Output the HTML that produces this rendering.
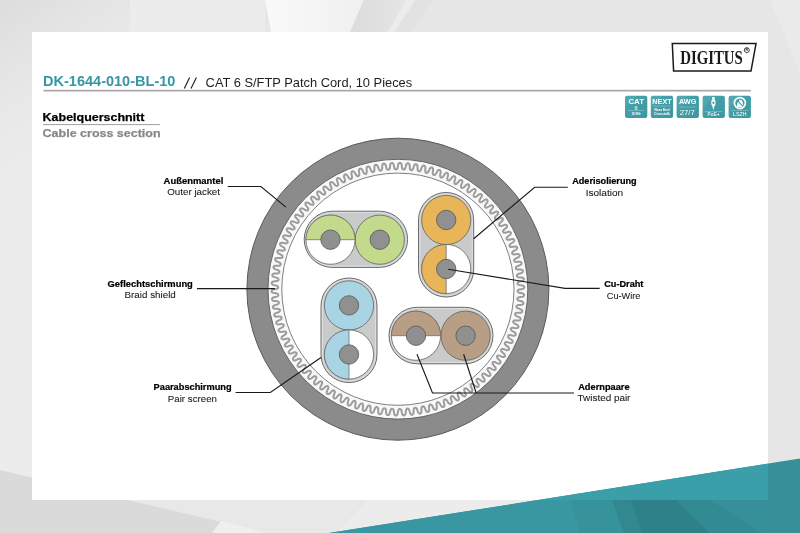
<!DOCTYPE html>
<html><head><meta charset="utf-8"><style>
html,body{margin:0;padding:0;width:800px;height:533px;overflow:hidden;background:#e6e6e6}
svg{display:block;will-change:transform}
text{font-family:"Liberation Sans",sans-serif}
</style></head><body>
<svg width="800" height="533" viewBox="0 0 800 533">
<defs>
<linearGradient id="bgl" gradientUnits="userSpaceOnUse" x1="0" y1="0" x2="110" y2="160">
<stop offset="0" stop-color="#dcdcdc"/><stop offset="1" stop-color="#ececec" stop-opacity="0"/>
</linearGradient>
<linearGradient id="wg" x1="0" y1="0" x2="1" y2="0"><stop offset="0" stop-color="#f9f9f9"/><stop offset="1" stop-color="#f0f0f0"/></linearGradient>
<linearGradient id="dg" x1="0" y1="0" x2="1" y2="0"><stop offset="0" stop-color="#dcdcdc"/><stop offset="1" stop-color="#e5e5e5"/></linearGradient>
<linearGradient id="tg" x1="0" y1="0" x2="1" y2="1">
<stop offset="0" stop-color="#48a5ad"/><stop offset="1" stop-color="#3b979f"/>
</linearGradient>
</defs>
<rect width="800" height="533" fill="#e6e6e6"/>
<rect width="265" height="32" fill="#ececec"/>
<rect width="32" height="533" fill="#ececec"/>
<rect width="130" height="533" fill="url(#bgl)"/>
<polygon points="265,0 363.7,0 350.2,32 271,32" fill="url(#wg)"/>
<polygon points="363.7,0 406.5,0 387.7,32 350.2,32" fill="url(#dg)"/>
<polygon points="406.5,0 415.5,0 394.5,32 387.7,32" fill="#ececec"/>
<polygon points="415.5,0 432,0 411.7,32 394.5,32" fill="#e2e2e2"/>
<polygon points="770,0 800,0 800,74" fill="#eaeaea"/>
<rect x="0" y="500" width="800" height="33" fill="#e8e8e8"/>
<polygon points="0,470 268,533 0,533" fill="#dadada"/>
<polygon points="221,521 268,533 212,533" fill="#efefef"/>
<polygon points="368,500 800,500 800,533 336,533" fill="#ececec"/>
<rect x="32" y="32" width="736" height="468" fill="#fff"/>
<polygon points="329,533 800,458.6 800,533" fill="#378f97"/>
<polygon points="537.9,500 768,463.7 768,500" fill="#3b9fa9"/>
<polygon points="329,533 537.9,500 571,500 580,533" fill="#3897a1"/>
<polygon points="571,500 612,500 624,533 580,533" fill="#36939c"/>
<polygon points="612,500 631,500 642,533 624,533" fill="#31888f"/>
<polygon points="631,500 676,500 710,533 642,533" fill="#2e8189"/>
<polygon points="676,500 710,500 762,533 710,533" fill="#328b93"/>
<polygon points="710,500 768,500 768,533 762,533" fill="#36909a"/>
<!-- title -->
<text x="43" y="86.3" font-size="13.8" font-weight="bold" fill="#3597a3" text-anchor="start" textLength="132.4" lengthAdjust="spacingAndGlyphs">DK-1644-010-BL-10</text>

<path d="M184.3 88.5 L189.6 77.4 M191 88.5 L196.4 77.4" stroke="#222" stroke-width="1.15" fill="none"/>
<text x="205.6" y="86.5" font-size="13.2" font-weight="normal" fill="#1e1e1e" text-anchor="start" textLength="206.6" lengthAdjust="spacingAndGlyphs">CAT 6 S/FTP Patch Cord, 10 Pieces</text>

<rect x="43.5" y="89.8" width="707.5" height="1.7" fill="#a8a8a8"/>
<text x="42.6" y="120.7" font-size="11.4" font-weight="bold" fill="#000" text-anchor="start" textLength="101.8" lengthAdjust="spacingAndGlyphs" stroke="#000" stroke-width="0.25">Kabelquerschnitt</text>

<rect x="43" y="124" width="117.2" height="1.1" fill="#a8a8a8"/>
<text x="42.6" y="136.8" font-size="11.2" font-weight="bold" fill="#888" text-anchor="start" textLength="118" lengthAdjust="spacingAndGlyphs" stroke="#888" stroke-width="0.25">Cable cross section</text>

<!-- logo -->
<polygon points="672.3,43.6 756,43.6 751,71.1 673.6,71.1" fill="#fff" stroke="#1a1a1a" stroke-width="1.5"/>
<text x="680.2" y="64.2" font-size="18.7" font-weight="bold" fill="#1a1a1a" textLength="62.6" lengthAdjust="spacingAndGlyphs" style="font-family:'Liberation Serif',serif">DIGITUS</text>
<circle cx="746.8" cy="50.1" r="2.5" fill="none" stroke="#1a1a1a" stroke-width="0.8"/>
<text x="746.8" y="51.4" font-size="3.6" font-weight="bold" text-anchor="middle" fill="#1a1a1a">R</text>
<g>
<rect x="625" y="95.7" width="22.3" height="22.4" rx="2" fill="url(#tg)"/>
<polygon points="625,107.7 637,95.7 627,95.7 625,97.7" fill="#fff" fill-opacity="0.06"/>
<rect x="650.8" y="95.7" width="22.3" height="22.4" rx="2" fill="url(#tg)"/>
<polygon points="650.8,107.7 662.8,95.7 652.8,95.7 650.8,97.7" fill="#fff" fill-opacity="0.06"/>
<rect x="676.6" y="95.7" width="22.3" height="22.4" rx="2" fill="url(#tg)"/>
<polygon points="676.6,107.7 688.6,95.7 678.6,95.7 676.6,97.7" fill="#fff" fill-opacity="0.06"/>
<rect x="702.6" y="95.7" width="22.3" height="22.4" rx="2" fill="url(#tg)"/>
<polygon points="702.6,107.7 714.6,95.7 704.6,95.7 702.6,97.7" fill="#fff" fill-opacity="0.06"/>
<rect x="728.6" y="95.7" width="22.3" height="22.4" rx="2" fill="url(#tg)"/>
<polygon points="728.6,107.7 740.6,95.7 730.6,95.7 728.6,97.7" fill="#fff" fill-opacity="0.06"/>
<g fill="#fff" text-anchor="middle" font-weight="bold">
<text x="636.2" y="103.6" font-size="7" textLength="15.5" lengthAdjust="spacingAndGlyphs">CAT</text>
<text x="636.2" y="109.6" font-size="5.8" font-weight="normal">6</text>
<rect x="628" y="110.4" width="16.5" height="0.5" fill="#fff" fill-opacity="0.5"/>
<text x="636.2" y="115" font-size="3" textLength="9" lengthAdjust="spacingAndGlyphs">250 MHz</text>
<text x="662" y="104" font-size="6.6" textLength="19.5" lengthAdjust="spacingAndGlyphs">NEXT</text>
<rect x="653" y="105.8" width="18" height="0.5" fill="#fff" fill-opacity="0.5"/>
<text x="662" y="111.2" font-size="3.6" textLength="15" lengthAdjust="spacingAndGlyphs">Near End</text>
<text x="662" y="115" font-size="3.6" textLength="16" lengthAdjust="spacingAndGlyphs">Crosstalk</text>
<text x="687.7" y="104.4" font-size="6.8" textLength="17.5" lengthAdjust="spacingAndGlyphs">AWG</text>
<rect x="679" y="106.8" width="17.5" height="0.5" fill="#fff" fill-opacity="0.5"/>
<text x="687.3" y="114.8" font-size="7" font-weight="normal" textLength="15" lengthAdjust="spacingAndGlyphs">27/7</text>
<rect x="705" y="111" width="17.5" height="0.5" fill="#fff" fill-opacity="0.5"/>
<text x="713.5" y="116" font-size="4.6" font-weight="normal" textLength="12" lengthAdjust="spacingAndGlyphs">PoE+</text>
<rect x="731" y="110.3" width="17.5" height="0.5" fill="#fff" fill-opacity="0.5"/>
<text x="739.8" y="116" font-size="4.6" font-weight="normal" textLength="13.5" lengthAdjust="spacingAndGlyphs">LSZH</text>
</g>
<path d="M712 97 L712.2 99.5 L711.3 101 L711.3 104.5 L712.3 106 L713.4 110.3 L714.5 106 L715.5 104.5 L715.5 101 L714.6 99.5 L714.8 97 Z" fill="#fff"/>
<circle cx="713.4" cy="102.8" r="1.1" fill="#3d9aa2"/>
<path d="M736.6 107.2 L737.6 102.6 L738.8 101.4 L739.3 99.2 L740.6 100.6 L741.4 99.6 L742.8 102.8 L743.4 106.2 L741.6 107.6 Z" fill="#fff"/>
<line x1="735.2" y1="98.4" x2="744.6" y2="107.8" stroke="#3d9aa2" stroke-width="1.1"/>
<circle cx="739.9" cy="103.1" r="5.5" fill="none" stroke="#fff" stroke-width="1.7"/>
</g>

<!-- cable -->
<circle cx="397.9" cy="289.2" r="151" fill="#8b8b8b" stroke="#5a5a5a" stroke-width="1"/>
<circle cx="397.9" cy="289.2" r="129.9" fill="#f8f8f8" stroke="#5a5a5a" stroke-width="0.9"/>
<path d="M520.9 289.2 519.2 289.5 518.5 289.8 518.1 290.2 517.8 290.5 517.7 290.8 517.6 291.1 517.7 291.4 517.8 291.8 518.1 292.1 518.5 292.4 519.1 292.8 520.9 293.1 522.7 293.5 523.3 293.9 523.7 294.2 523.9 294.6 524.1 294.9 524.1 295.3 524.0 295.6 523.9 295.9 523.6 296.3 523.1 296.6 522.5 296.9 520.7 297.1 518.9 297.3 518.2 297.6 517.8 297.9 517.5 298.2 517.3 298.5 517.3 298.8 517.3 299.1 517.4 299.4 517.7 299.8 518.0 300.1 518.6 300.5 520.4 301.0 522.1 301.5 522.7 301.9 523.1 302.3 523.3 302.7 523.4 303.0 523.5 303.3 523.4 303.7 523.2 304.0 522.9 304.3 522.4 304.6 521.8 304.8 519.9 304.9 518.1 305.0 517.5 305.3 517.0 305.5 516.7 305.8 516.5 306.1 516.4 306.4 516.4 306.7 516.5 307.1 516.7 307.4 517.1 307.8 517.7 308.2 519.4 308.8 521.1 309.5 521.6 309.9 522.0 310.3 522.2 310.7 522.3 311.0 522.3 311.4 522.2 311.7 522.0 312.0 521.6 312.3 521.2 312.5 520.5 312.7 518.7 312.7 516.9 312.7 516.2 312.9 515.7 313.1 515.4 313.4 515.2 313.7 515.1 314.0 515.0 314.3 515.1 314.6 515.3 315.0 515.7 315.4 516.2 315.9 517.9 316.6 519.5 317.3 520.1 317.8 520.4 318.2 520.6 318.6 520.6 318.9 520.6 319.3 520.5 319.6 520.3 319.9 519.9 320.2 519.4 320.4 518.7 320.5 516.9 320.4 515.1 320.3 514.4 320.4 513.9 320.6 513.6 320.9 513.4 321.1 513.2 321.4 513.2 321.7 513.3 322.1 513.4 322.5 513.7 322.9 514.2 323.4 515.9 324.2 517.5 325.0 518.0 325.5 518.3 326.0 518.4 326.4 518.5 326.7 518.4 327.1 518.3 327.4 518.0 327.7 517.7 327.9 517.2 328.1 516.5 328.2 514.7 328.0 512.9 327.7 512.2 327.8 511.7 328.0 511.3 328.2 511.1 328.5 510.9 328.8 510.9 329.1 510.9 329.4 511.1 329.8 511.3 330.3 511.8 330.8 513.4 331.7 514.9 332.6 515.4 333.2 515.7 333.6 515.8 334.0 515.8 334.4 515.8 334.7 515.6 335.0 515.3 335.3 514.9 335.5 514.4 335.7 513.7 335.7 512.0 335.4 510.2 335.0 509.5 335.1 509.0 335.2 508.6 335.4 508.3 335.6 508.2 335.9 508.1 336.2 508.1 336.6 508.2 337.0 508.5 337.4 508.9 338.0 510.4 339.0 511.9 340.0 512.4 340.6 512.6 341.1 512.7 341.5 512.7 341.9 512.6 342.2 512.4 342.5 512.1 342.7 511.7 342.9 511.2 343.0 510.5 343.1 508.8 342.6 507.0 342.1 506.3 342.1 505.8 342.2 505.4 342.4 505.1 342.6 504.9 342.9 504.8 343.2 504.8 343.5 504.9 344.0 505.2 344.4 505.6 345.0 507.0 346.1 508.4 347.2 508.8 347.8 509.0 348.3 509.1 348.7 509.1 349.1 509.0 349.4 508.8 349.7 508.5 349.9 508.1 350.1 507.5 350.2 506.8 350.2 505.1 349.6 503.4 349.0 502.7 349.0 502.2 349.0 501.8 349.2 501.5 349.4 501.3 349.6 501.2 349.9 501.1 350.3 501.2 350.7 501.4 351.2 501.8 351.8 503.1 353.0 504.5 354.2 504.8 354.8 505.0 355.3 505.1 355.7 505.0 356.1 504.9 356.4 504.7 356.7 504.3 356.9 503.9 357.0 503.4 357.1 502.7 357.0 501.0 356.3 499.3 355.6 498.6 355.5 498.1 355.6 497.7 355.7 497.4 355.9 497.2 356.1 497.1 356.4 497.0 356.8 497.1 357.2 497.2 357.7 497.5 358.3 498.8 359.6 500.1 360.9 500.4 361.5 500.6 362.0 500.6 362.5 500.5 362.8 500.4 363.1 500.1 363.4 499.8 363.6 499.4 363.7 498.8 363.7 498.2 363.6 496.5 362.8 494.9 362.0 494.2 361.9 493.7 361.9 493.3 362.0 492.9 362.1 492.7 362.4 492.6 362.6 492.5 363.0 492.5 363.4 492.6 363.9 492.9 364.5 494.1 365.9 495.3 367.3 495.6 367.9 495.7 368.5 495.7 368.9 495.6 369.3 495.4 369.6 495.2 369.8 494.8 369.9 494.4 370.0 493.9 370.0 493.2 369.9 491.6 369.0 490.0 368.0 489.3 367.9 488.8 367.9 488.4 367.9 488.1 368.1 487.8 368.3 487.7 368.6 487.6 368.9 487.5 369.3 487.6 369.8 487.9 370.5 489.0 371.9 490.1 373.4 490.3 374.0 490.4 374.6 490.4 375.0 490.3 375.4 490.1 375.6 489.8 375.8 489.4 376.0 489.0 376.0 488.5 376.0 487.8 375.8 486.3 374.8 484.8 373.8 484.1 373.6 483.6 373.5 483.2 373.6 482.8 373.7 482.6 373.9 482.4 374.1 482.3 374.5 482.2 374.9 482.3 375.4 482.5 376.1 483.5 377.6 484.5 379.1 484.7 379.8 484.7 380.3 484.7 380.7 484.5 381.1 484.3 381.4 484.1 381.6 483.7 381.7 483.3 381.7 482.7 381.6 482.1 381.4 480.6 380.3 479.2 379.2 478.5 378.9 478.0 378.8 477.6 378.9 477.3 379.0 477.0 379.1 476.8 379.4 476.6 379.7 476.6 380.1 476.6 380.6 476.7 381.3 477.7 382.9 478.6 384.5 478.7 385.2 478.7 385.7 478.6 386.1 478.5 386.5 478.3 386.7 478.0 386.9 477.6 387.0 477.2 387.0 476.6 386.9 476.0 386.6 474.6 385.4 473.2 384.2 472.6 383.9 472.1 383.8 471.7 383.8 471.3 383.9 471.1 384.0 470.8 384.2 470.7 384.6 470.6 385.0 470.6 385.5 470.7 386.2 471.5 387.8 472.3 389.5 472.4 390.1 472.4 390.7 472.3 391.1 472.1 391.4 471.8 391.7 471.5 391.8 471.2 391.9 470.7 391.9 470.2 391.7 469.6 391.4 468.3 390.1 467.0 388.8 466.4 388.5 465.9 388.4 465.5 388.3 465.1 388.4 464.8 388.5 464.6 388.7 464.4 389.0 464.3 389.4 464.2 389.9 464.3 390.6 465.0 392.3 465.7 394.0 465.8 394.7 465.7 395.2 465.6 395.6 465.4 396.0 465.1 396.2 464.8 396.3 464.4 396.4 464.0 396.3 463.5 396.1 462.9 395.8 461.7 394.4 460.5 393.1 459.9 392.7 459.4 392.5 459.0 392.4 458.6 392.5 458.3 392.6 458.1 392.8 457.9 393.1 457.7 393.5 457.7 394.0 457.7 394.7 458.3 396.4 458.9 398.1 458.9 398.8 458.8 399.4 458.6 399.8 458.4 400.1 458.1 400.3 457.8 400.4 457.4 400.4 457.0 400.3 456.5 400.1 455.9 399.7 454.8 398.3 453.7 396.9 453.1 396.5 452.7 396.2 452.2 396.1 451.9 396.1 451.6 396.2 451.3 396.4 451.1 396.7 450.9 397.1 450.8 397.6 450.8 398.3 451.3 400.1 451.8 401.8 451.7 402.5 451.6 403.0 451.4 403.4 451.2 403.7 450.9 403.9 450.6 404.0 450.2 404.0 449.8 403.9 449.3 403.7 448.7 403.2 447.7 401.7 446.7 400.2 446.1 399.8 445.7 399.5 445.3 399.4 444.9 399.4 444.6 399.5 444.3 399.6 444.1 399.9 443.9 400.3 443.8 400.8 443.7 401.5 444.1 403.3 444.4 405.0 444.4 405.7 444.2 406.2 444.0 406.6 443.7 406.9 443.4 407.1 443.1 407.1 442.7 407.1 442.3 407.0 441.9 406.7 441.3 406.2 440.4 404.7 439.5 403.1 439.0 402.6 438.5 402.4 438.1 402.2 437.8 402.2 437.5 402.2 437.2 402.4 436.9 402.6 436.7 403.0 436.5 403.5 436.4 404.2 436.7 406.0 436.9 407.8 436.8 408.5 436.6 409.0 436.4 409.3 436.1 409.6 435.8 409.7 435.4 409.8 435.1 409.7 434.7 409.6 434.2 409.3 433.7 408.8 432.9 407.2 432.1 405.5 431.6 405.0 431.2 404.7 430.8 404.6 430.4 404.5 430.1 404.5 429.8 404.7 429.6 404.9 429.3 405.2 429.1 405.7 429.0 406.4 429.1 408.2 429.2 410.0 429.1 410.7 428.9 411.2 428.6 411.6 428.3 411.8 428.0 411.9 427.6 411.9 427.3 411.9 426.9 411.7 426.5 411.4 426.0 410.8 425.3 409.2 424.6 407.5 424.1 407.0 423.7 406.6 423.3 406.4 423.0 406.3 422.7 406.4 422.4 406.5 422.1 406.7 421.8 407.0 421.6 407.5 421.4 408.2 421.4 410.0 421.4 411.8 421.2 412.5 421.0 412.9 420.7 413.3 420.4 413.5 420.1 413.6 419.7 413.6 419.4 413.5 419.0 413.3 418.6 412.9 418.2 412.4 417.5 410.7 416.9 409.0 416.5 408.4 416.1 408.0 415.8 407.8 415.4 407.7 415.1 407.7 414.8 407.8 414.5 408.0 414.2 408.3 414.0 408.8 413.7 409.4 413.6 411.2 413.5 413.1 413.3 413.7 413.0 414.2 412.7 414.5 412.4 414.7 412.0 414.8 411.7 414.7 411.4 414.6 411.0 414.4 410.6 414.0 410.2 413.4 409.7 411.7 409.2 409.9 408.8 409.3 408.5 409.0 408.1 408.7 407.8 408.6 407.5 408.6 407.2 408.6 406.9 408.8 406.6 409.1 406.3 409.5 406.0 410.2 405.8 412.0 405.6 413.8 405.3 414.4 405.0 414.9 404.6 415.2 404.3 415.3 404.0 415.4 403.6 415.4 403.3 415.2 402.9 415.0 402.6 414.6 402.2 414.0 401.8 412.2 401.5 410.4 401.1 409.8 400.8 409.4 400.5 409.1 400.1 409.0 399.8 408.9 399.5 409.0 399.2 409.1 398.9 409.4 398.5 409.8 398.2 410.5 397.9 412.2 397.6 414.0 397.2 414.7 396.9 415.1 396.6 415.3 396.2 415.5 395.9 415.5 395.5 415.5 395.2 415.3 394.9 415.0 394.5 414.6 394.2 414.0 394.0 412.2 393.7 410.4 393.4 409.7 393.1 409.3 392.8 409.0 392.5 408.9 392.1 408.8 391.8 408.8 391.5 409.0 391.2 409.2 390.8 409.6 390.5 410.2 390.0 412.0 389.6 413.8 389.2 414.4 388.8 414.7 388.5 415.0 388.1 415.1 387.8 415.1 387.5 415.1 387.1 414.9 386.8 414.6 386.5 414.1 386.2 413.5 386.1 411.7 385.9 409.9 385.7 409.2 385.4 408.8 385.1 408.5 384.8 408.3 384.5 408.2 384.2 408.2 383.8 408.3 383.5 408.6 383.1 408.9 382.7 409.5 382.2 411.2 381.6 413.0 381.2 413.5 380.8 413.9 380.4 414.1 380.1 414.2 379.7 414.2 379.4 414.1 379.1 413.9 378.8 413.6 378.5 413.2 378.3 412.5 378.3 410.7 378.2 408.8 378.0 408.2 377.8 407.7 377.5 407.4 377.2 407.2 376.9 407.1 376.6 407.1 376.2 407.2 375.9 407.4 375.5 407.7 375.0 408.3 374.4 410.0 373.7 411.7 373.3 412.2 372.8 412.6 372.5 412.8 372.1 412.8 371.8 412.8 371.4 412.7 371.1 412.5 370.9 412.1 370.6 411.7 370.4 411.0 370.5 409.2 370.6 407.3 370.4 406.7 370.2 406.2 370.0 405.9 369.7 405.6 369.4 405.5 369.1 405.5 368.7 405.6 368.3 405.7 367.9 406.1 367.5 406.6 366.7 408.2 365.9 409.9 365.4 410.4 365.0 410.7 364.6 410.9 364.2 410.9 363.9 410.9 363.6 410.7 363.3 410.5 363.1 410.2 362.8 409.7 362.7 409.0 362.9 407.2 363.1 405.3 363.0 404.7 362.8 404.2 362.5 403.8 362.3 403.6 362.0 403.4 361.7 403.4 361.3 403.4 360.9 403.6 360.5 403.9 360.0 404.4 359.1 406.0 358.2 407.6 357.7 408.1 357.3 408.3 356.9 408.5 356.5 408.5 356.2 408.5 355.9 408.3 355.6 408.0 355.4 407.7 355.2 407.2 355.1 406.5 355.4 404.7 355.7 402.9 355.6 402.2 355.5 401.7 355.3 401.3 355.0 401.1 354.7 400.9 354.4 400.8 354.1 400.9 353.7 401.0 353.2 401.3 352.7 401.7 351.7 403.3 350.7 404.8 350.2 405.2 349.7 405.5 349.3 405.6 348.9 405.6 348.6 405.5 348.3 405.4 348.1 405.1 347.9 404.7 347.7 404.2 347.7 403.5 348.1 401.7 348.5 399.9 348.5 399.2 348.4 398.7 348.2 398.4 347.9 398.1 347.7 397.9 347.4 397.8 347.0 397.8 346.6 397.9 346.1 398.2 345.6 398.6 344.5 400.1 343.4 401.5 342.9 401.9 342.4 402.2 342.0 402.3 341.6 402.2 341.3 402.1 341.0 401.9 340.8 401.7 340.6 401.3 340.5 400.7 340.4 400.0 341.0 398.3 341.5 396.6 341.5 395.9 341.4 395.3 341.3 395.0 341.1 394.7 340.8 394.5 340.5 394.4 340.2 394.3 339.7 394.4 339.3 394.6 338.7 395.0 337.5 396.4 336.3 397.8 335.7 398.2 335.3 398.4 334.8 398.4 334.5 398.4 334.1 398.3 333.9 398.1 333.7 397.8 333.5 397.4 333.4 396.8 333.5 396.1 334.1 394.4 334.8 392.7 334.8 392.0 334.8 391.5 334.6 391.1 334.4 390.8 334.2 390.6 333.9 390.5 333.5 390.4 333.1 390.5 332.6 390.7 332.0 391.0 330.8 392.3 329.5 393.6 328.9 394.0 328.4 394.1 328.0 394.2 327.6 394.1 327.3 394.0 327.0 393.7 326.8 393.4 326.7 393.0 326.7 392.5 326.7 391.8 327.5 390.1 328.3 388.5 328.4 387.8 328.3 387.3 328.2 386.8 328.1 386.5 327.8 386.3 327.5 386.2 327.2 386.1 326.8 386.1 326.3 386.3 325.6 386.6 324.3 387.8 323.0 389.1 322.3 389.3 321.8 389.5 321.4 389.5 321.0 389.4 320.7 389.2 320.5 389.0 320.3 388.7 320.2 388.2 320.2 387.7 320.3 387.0 321.2 385.4 322.0 383.8 322.2 383.1 322.2 382.6 322.1 382.2 322.0 381.9 321.7 381.6 321.5 381.5 321.1 381.4 320.7 381.4 320.2 381.5 319.5 381.7 318.1 382.9 316.7 384.0 316.1 384.3 315.5 384.4 315.1 384.4 314.8 384.3 314.5 384.1 314.2 383.8 314.1 383.5 314.0 383.1 314.0 382.5 314.2 381.8 315.2 380.3 316.1 378.7 316.3 378.1 316.4 377.6 316.3 377.1 316.2 376.8 316.0 376.5 315.7 376.4 315.4 376.3 315.0 376.2 314.4 376.3 313.8 376.5 312.3 377.6 310.8 378.7 310.1 378.9 309.6 378.9 309.2 378.9 308.8 378.7 308.6 378.5 308.4 378.3 308.2 377.9 308.2 377.5 308.2 377.0 308.4 376.3 309.5 374.8 310.6 373.3 310.8 372.7 310.9 372.1 310.8 371.7 310.7 371.4 310.6 371.1 310.3 370.9 310.0 370.8 309.5 370.7 309.0 370.8 308.4 371.0 306.8 371.9 305.3 372.9 304.6 373.1 304.0 373.1 303.6 373.0 303.3 372.9 303.0 372.6 302.8 372.3 302.7 372.0 302.7 371.6 302.8 371.0 303.1 370.4 304.2 369.0 305.4 367.6 305.6 366.9 305.7 366.4 305.7 366.0 305.6 365.6 305.5 365.4 305.2 365.1 304.9 365.0 304.5 364.9 304.0 364.9 303.3 365.1 301.7 365.9 300.1 366.8 299.4 366.9 298.9 366.9 298.4 366.8 298.1 366.6 297.9 366.4 297.7 366.1 297.6 365.7 297.6 365.3 297.8 364.8 298.0 364.1 299.3 362.8 300.5 361.5 300.8 360.8 301.0 360.3 301.0 359.9 300.9 359.6 300.8 359.3 300.6 359.0 300.3 358.9 299.8 358.8 299.3 358.7 298.6 358.8 297.0 359.6 295.3 360.4 294.6 360.4 294.1 360.4 293.7 360.3 293.4 360.1 293.1 359.8 293.0 359.5 292.9 359.1 293.0 358.7 293.1 358.2 293.5 357.6 294.8 356.3 296.1 355.1 296.4 354.5 296.6 354.0 296.7 353.6 296.6 353.2 296.5 352.9 296.3 352.7 296.0 352.5 295.6 352.3 295.1 352.3 294.4 352.3 292.7 353.0 291.0 353.6 290.3 353.7 289.7 353.6 289.3 353.4 289.0 353.2 288.8 353.0 288.7 352.6 288.7 352.3 288.7 351.8 288.9 351.4 289.3 350.8 290.7 349.6 292.1 348.4 292.5 347.8 292.7 347.4 292.8 346.9 292.7 346.6 292.6 346.3 292.4 346.0 292.1 345.8 291.8 345.7 291.2 345.6 290.5 345.6 288.8 346.1 287.1 346.7 286.4 346.6 285.8 346.5 285.4 346.3 285.2 346.1 285.0 345.8 284.9 345.5 284.8 345.1 284.9 344.7 285.2 344.2 285.6 343.7 287.0 342.6 288.5 341.5 288.9 341.0 289.2 340.5 289.3 340.1 289.3 339.7 289.2 339.4 289.0 339.2 288.7 338.9 288.4 338.7 287.9 338.6 287.2 338.6 285.4 339.0 283.6 339.4 282.9 339.4 282.4 339.2 282.0 339.0 281.7 338.8 281.6 338.5 281.5 338.2 281.5 337.8 281.6 337.4 281.9 336.9 282.3 336.4 283.8 335.4 285.4 334.4 285.8 333.9 286.1 333.4 286.2 333.0 286.3 332.7 286.2 332.4 286.0 332.1 285.8 331.8 285.4 331.6 284.9 331.5 284.2 331.4 282.4 331.7 280.6 332.0 279.9 331.9 279.4 331.7 279.1 331.5 278.8 331.2 278.6 330.9 278.6 330.6 278.6 330.2 278.8 329.8 279.0 329.4 279.5 328.9 281.1 328.0 282.7 327.1 283.2 326.6 283.5 326.2 283.7 325.8 283.7 325.4 283.7 325.1 283.5 324.8 283.3 324.6 282.9 324.3 282.4 324.1 281.8 324.0 279.9 324.2 278.1 324.4 277.4 324.3 276.9 324.0 276.6 323.8 276.4 323.5 276.2 323.2 276.2 322.9 276.2 322.5 276.4 322.1 276.7 321.7 277.2 321.2 278.9 320.4 280.5 319.6 281.0 319.2 281.4 318.8 281.5 318.4 281.6 318.0 281.6 317.7 281.5 317.4 281.2 317.1 280.9 316.9 280.4 316.7 279.8 316.5 277.9 316.6 276.1 316.7 275.4 316.5 275.0 316.2 274.6 316.0 274.4 315.7 274.3 315.3 274.3 315.0 274.3 314.6 274.5 314.3 274.9 313.8 275.4 313.4 277.1 312.7 278.8 312.1 279.4 311.6 279.7 311.2 279.9 310.9 280.0 310.5 280.0 310.2 279.9 309.9 279.7 309.6 279.4 309.3 278.9 309.1 278.3 308.9 276.4 308.8 274.6 308.8 273.9 308.6 273.5 308.3 273.2 308.0 273.0 307.7 272.9 307.4 272.9 307.0 273.0 306.7 273.2 306.3 273.6 305.9 274.1 305.5 275.9 304.9 277.6 304.4 278.2 304.0 278.5 303.6 278.8 303.3 278.9 302.9 278.9 302.6 278.8 302.3 278.6 302.0 278.3 301.7 277.9 301.4 277.2 301.2 275.4 301.0 273.6 300.9 273.0 300.6 272.5 300.3 272.2 300.0 272.0 299.6 272.0 299.3 272.0 299.0 272.1 298.6 272.4 298.3 272.7 297.9 273.3 297.5 275.1 297.1 276.9 296.6 277.5 296.3 277.9 295.9 278.1 295.6 278.3 295.3 278.3 295.0 278.2 294.6 278.1 294.3 277.8 294.0 277.4 293.7 276.7 293.4 274.9 293.1 273.1 292.9 272.5 292.6 272.1 292.2 271.8 291.9 271.6 291.6 271.6 291.2 271.6 290.9 271.8 290.5 272.0 290.2 272.4 289.9 273.1 289.5 274.8 289.2 276.6 288.9 277.3 288.6 277.7 288.2 278.0 287.9 278.1 287.6 278.2 287.3 278.1 287.0 278.0 286.6 277.7 286.3 277.3 286.0 276.7 285.6 274.9 285.3 273.1 284.9 272.5 284.5 272.1 284.2 271.9 283.8 271.7 283.5 271.7 283.1 271.8 282.8 271.9 282.5 272.2 282.1 272.7 281.8 273.3 281.5 275.1 281.3 276.9 281.1 277.6 280.8 278.0 280.5 278.3 280.2 278.5 279.9 278.5 279.6 278.5 279.3 278.4 279.0 278.1 278.6 277.8 278.3 277.2 277.9 275.4 277.4 273.7 276.9 273.1 276.5 272.7 276.1 272.5 275.7 272.4 275.4 272.3 275.1 272.4 274.7 272.6 274.4 272.9 274.1 273.4 273.8 274.0 273.6 275.9 273.5 277.7 273.4 278.3 273.1 278.8 272.9 279.1 272.6 279.3 272.3 279.4 272.0 279.4 271.7 279.3 271.3 279.1 271.0 278.7 270.6 278.1 270.2 276.4 269.6 274.7 268.9 274.2 268.5 273.8 268.1 273.6 267.7 273.5 267.4 273.5 267.0 273.6 266.7 273.8 266.4 274.2 266.1 274.6 265.9 275.3 265.7 277.1 265.7 278.9 265.7 279.6 265.5 280.1 265.3 280.4 265.0 280.6 264.7 280.7 264.4 280.8 264.1 280.7 263.8 280.5 263.4 280.1 263.0 279.6 262.5 277.9 261.8 276.3 261.1 275.7 260.6 275.4 260.2 275.2 259.8 275.2 259.5 275.2 259.1 275.3 258.8 275.5 258.5 275.9 258.2 276.4 258.0 277.1 257.9 278.9 258.0 280.7 258.1 281.4 258.0 281.9 257.8 282.2 257.5 282.4 257.3 282.6 257.0 282.6 256.7 282.5 256.3 282.4 255.9 282.1 255.5 281.6 255.0 279.9 254.2 278.3 253.4 277.8 252.9 277.5 252.4 277.4 252.0 277.3 251.7 277.4 251.3 277.5 251.0 277.8 250.7 278.1 250.5 278.6 250.3 279.3 250.2 281.1 250.4 282.9 250.7 283.6 250.6 284.1 250.4 284.5 250.2 284.7 249.9 284.9 249.6 284.9 249.3 284.9 249.0 284.7 248.6 284.5 248.1 284.0 247.6 282.4 246.7 280.9 245.8 280.4 245.2 280.1 244.8 280.0 244.4 280.0 244.0 280.0 243.7 280.2 243.4 280.5 243.1 280.9 242.9 281.4 242.7 282.1 242.7 283.8 243.0 285.6 243.4 286.3 243.3 286.8 243.2 287.2 243.0 287.5 242.8 287.6 242.5 287.7 242.2 287.7 241.8 287.6 241.4 287.3 241.0 286.9 240.4 285.4 239.4 283.9 238.4 283.4 237.8 283.2 237.3 283.1 236.9 283.1 236.5 283.2 236.2 283.4 235.9 283.7 235.7 284.1 235.5 284.6 235.4 285.3 235.3 287.0 235.8 288.8 236.3 289.5 236.3 290.0 236.2 290.4 236.0 290.7 235.8 290.9 235.5 291.0 235.2 291.0 234.9 290.9 234.4 290.6 234.0 290.2 233.4 288.8 232.3 287.4 231.2 287.0 230.6 286.8 230.1 286.7 229.7 286.7 229.3 286.8 229.0 287.0 228.7 287.3 228.5 287.7 228.3 288.3 228.2 289.0 228.2 290.7 228.8 292.4 229.4 293.1 229.4 293.6 229.4 294.0 229.2 294.3 229.0 294.5 228.8 294.6 228.5 294.7 228.1 294.6 227.7 294.4 227.2 294.0 226.6 292.7 225.4 291.3 224.2 291.0 223.6 290.8 223.1 290.7 222.7 290.8 222.3 290.9 222.0 291.1 221.7 291.5 221.5 291.9 221.4 292.4 221.3 293.1 221.4 294.8 222.1 296.5 222.8 297.2 222.9 297.7 222.8 298.1 222.7 298.4 222.5 298.6 222.3 298.7 222.0 298.8 221.6 298.7 221.2 298.6 220.7 298.3 220.1 297.0 218.8 295.7 217.5 295.4 216.9 295.2 216.4 295.2 215.9 295.3 215.6 295.4 215.3 295.7 215.0 296.0 214.8 296.4 214.7 297.0 214.7 297.6 214.8 299.3 215.6 300.9 216.4 301.6 216.5 302.1 216.5 302.5 216.4 302.9 216.3 303.1 216.0 303.2 215.8 303.3 215.4 303.3 215.0 303.2 214.5 302.9 213.9 301.7 212.5 300.5 211.1 300.2 210.5 300.1 209.9 300.1 209.5 300.2 209.1 300.4 208.8 300.6 208.6 301.0 208.5 301.4 208.4 301.9 208.4 302.6 208.5 304.2 209.4 305.8 210.4 306.5 210.5 307.0 210.5 307.4 210.5 307.7 210.3 308.0 210.1 308.1 209.8 308.2 209.5 308.3 209.1 308.2 208.6 307.9 207.9 306.8 206.5 305.7 205.0 305.5 204.4 305.4 203.8 305.4 203.4 305.5 203.0 305.7 202.8 306.0 202.6 306.4 202.4 306.8 202.4 307.3 202.4 308.0 202.6 309.5 203.6 311.0 204.6 311.7 204.8 312.2 204.9 312.6 204.8 313.0 204.7 313.2 204.5 313.4 204.3 313.5 203.9 313.6 203.5 313.5 203.0 313.3 202.3 312.3 200.8 311.3 199.3 311.1 198.6 311.1 198.1 311.1 197.7 311.3 197.3 311.5 197.0 311.7 196.8 312.1 196.7 312.5 196.7 313.1 196.8 313.7 197.0 315.2 198.1 316.6 199.2 317.3 199.5 317.8 199.6 318.2 199.5 318.5 199.4 318.8 199.3 319.0 199.0 319.2 198.7 319.2 198.3 319.2 197.8 319.1 197.1 318.1 195.5 317.2 193.9 317.1 193.2 317.1 192.7 317.2 192.3 317.3 191.9 317.5 191.7 317.8 191.5 318.2 191.4 318.6 191.4 319.2 191.5 319.8 191.8 321.2 193.0 322.6 194.2 323.2 194.5 323.7 194.6 324.1 194.6 324.5 194.5 324.7 194.4 325.0 194.2 325.1 193.8 325.2 193.4 325.2 192.9 325.1 192.2 324.3 190.6 323.5 188.9 323.4 188.3 323.4 187.7 323.5 187.3 323.7 187.0 324.0 186.7 324.3 186.6 324.6 186.5 325.1 186.5 325.6 186.7 326.2 187.0 327.5 188.3 328.8 189.6 329.4 189.9 329.9 190.0 330.3 190.1 330.7 190.0 331.0 189.9 331.2 189.7 331.4 189.4 331.5 189.0 331.6 188.5 331.5 187.8 330.8 186.1 330.1 184.4 330.0 183.7 330.1 183.2 330.2 182.8 330.4 182.4 330.7 182.2 331.0 182.1 331.4 182.0 331.8 182.1 332.3 182.3 332.9 182.6 334.1 184.0 335.3 185.3 335.9 185.7 336.4 185.9 336.8 186.0 337.2 185.9 337.5 185.8 337.7 185.6 337.9 185.3 338.1 184.9 338.1 184.4 338.1 183.7 337.5 182.0 336.9 180.3 336.9 179.6 337.0 179.0 337.2 178.6 337.4 178.3 337.7 178.1 338.0 178.0 338.4 178.0 338.8 178.1 339.3 178.3 339.9 178.7 341.0 180.1 342.1 181.5 342.7 181.9 343.1 182.2 343.6 182.3 343.9 182.3 344.2 182.2 344.5 182.0 344.7 181.7 344.9 181.3 345.0 180.8 345.0 180.1 344.5 178.3 344.0 176.6 344.1 175.9 344.2 175.4 344.4 175.0 344.6 174.7 344.9 174.5 345.2 174.4 345.6 174.4 346.0 174.5 346.5 174.7 347.1 175.2 348.1 176.7 349.1 178.2 349.7 178.6 350.1 178.9 350.5 179.0 350.9 179.0 351.2 178.9 351.5 178.8 351.7 178.5 351.9 178.1 352.0 177.6 352.1 176.9 351.7 175.1 351.4 173.4 351.4 172.7 351.6 172.2 351.8 171.8 352.1 171.5 352.4 171.3 352.7 171.3 353.1 171.3 353.5 171.4 353.9 171.7 354.5 172.2 355.4 173.7 356.3 175.3 356.8 175.8 357.3 176.0 357.7 176.2 358.0 176.2 358.3 176.2 358.6 176.0 358.9 175.8 359.1 175.4 359.3 174.9 359.4 174.2 359.1 172.4 358.9 170.6 359.0 169.9 359.2 169.4 359.4 169.1 359.7 168.8 360.0 168.7 360.4 168.6 360.7 168.7 361.1 168.8 361.6 169.1 362.1 169.6 362.9 171.2 363.7 172.9 364.2 173.4 364.6 173.7 365.0 173.8 365.4 173.9 365.7 173.9 366.0 173.7 366.2 173.5 366.5 173.2 366.7 172.7 366.8 172.0 366.7 170.2 366.6 168.4 366.7 167.7 366.9 167.2 367.2 166.8 367.5 166.6 367.8 166.5 368.2 166.5 368.5 166.5 368.9 166.7 369.3 167.0 369.8 167.6 370.5 169.2 371.2 170.9 371.7 171.4 372.1 171.8 372.5 172.0 372.8 172.1 373.1 172.0 373.4 171.9 373.7 171.7 374.0 171.4 374.2 170.9 374.4 170.2 374.4 168.4 374.4 166.6 374.6 165.9 374.8 165.5 375.1 165.1 375.4 164.9 375.7 164.8 376.1 164.8 376.4 164.9 376.8 165.1 377.2 165.5 377.6 166.0 378.3 167.7 378.9 169.4 379.3 170.0 379.7 170.4 380.0 170.6 380.4 170.7 380.7 170.7 381.0 170.6 381.3 170.4 381.6 170.1 381.8 169.6 382.1 169.0 382.2 167.2 382.3 165.3 382.5 164.7 382.8 164.2 383.1 163.9 383.4 163.7 383.8 163.6 384.1 163.7 384.4 163.8 384.8 164.0 385.2 164.4 385.6 165.0 386.1 166.7 386.6 168.5 387.0 169.1 387.3 169.4 387.7 169.7 388.0 169.8 388.3 169.8 388.6 169.8 388.9 169.6 389.2 169.3 389.5 168.9 389.8 168.2 390.0 166.4 390.2 164.6 390.5 164.0 390.8 163.5 391.2 163.2 391.5 163.1 391.8 163.0 392.2 163.0 392.5 163.2 392.9 163.4 393.2 163.8 393.6 164.4 394.0 166.2 394.3 168.0 394.7 168.6 395.0 169.0 395.3 169.3 395.7 169.4 396.0 169.5 396.3 169.4 396.6 169.3 396.9 169.0 397.3 168.6 397.6 167.9 397.9 166.1 398.2 164.4 398.6 163.7 398.9 163.3 399.2 163.1 399.6 162.9 399.9 162.9 400.3 162.9 400.6 163.1 400.9 163.4 401.3 163.8 401.6 164.4 401.8 166.2 402.1 168.0 402.4 168.7 402.7 169.1 403.0 169.4 403.3 169.5 403.7 169.6 404.0 169.6 404.3 169.4 404.6 169.2 405.0 168.8 405.3 168.2 405.8 166.4 406.2 164.6 406.6 164.0 407.0 163.7 407.3 163.4 407.7 163.3 408.0 163.3 408.3 163.3 408.7 163.5 409.0 163.8 409.3 164.3 409.6 164.9 409.7 166.7 409.9 168.5 410.1 169.2 410.4 169.6 410.7 169.9 411.0 170.1 411.3 170.2 411.6 170.2 412.0 170.1 412.3 169.8 412.7 169.5 413.1 168.9 413.6 167.2 414.2 165.4 414.6 164.9 415.0 164.5 415.4 164.3 415.7 164.2 416.1 164.2 416.4 164.3 416.7 164.5 417.0 164.8 417.3 165.2 417.5 165.9 417.5 167.7 417.6 169.6 417.8 170.2 418.0 170.7 418.3 171.0 418.6 171.2 418.9 171.3 419.2 171.3 419.6 171.2 419.9 171.0 420.3 170.7 420.8 170.1 421.4 168.4 422.1 166.7 422.5 166.2 423.0 165.8 423.3 165.6 423.7 165.6 424.0 165.6 424.4 165.7 424.7 165.9 424.9 166.3 425.2 166.7 425.4 167.4 425.3 169.2 425.2 171.1 425.4 171.7 425.6 172.2 425.8 172.5 426.1 172.8 426.4 172.9 426.7 172.9 427.1 172.8 427.5 172.7 427.9 172.3 428.3 171.8 429.1 170.2 429.9 168.5 430.4 168.0 430.8 167.7 431.2 167.5 431.6 167.5 431.9 167.5 432.2 167.7 432.5 167.9 432.7 168.2 433.0 168.7 433.1 169.4 432.9 171.2 432.7 173.1 432.8 173.7 433.0 174.2 433.3 174.6 433.5 174.8 433.8 175.0 434.1 175.0 434.5 175.0 434.9 174.8 435.3 174.5 435.8 174.0 436.7 172.4 437.6 170.8 438.1 170.3 438.5 170.1 438.9 169.9 439.3 169.9 439.6 169.9 439.9 170.1 440.2 170.4 440.4 170.7 440.6 171.2 440.7 171.9 440.4 173.7 440.1 175.5 440.2 176.2 440.3 176.7 440.5 177.1 440.8 177.3 441.1 177.5 441.4 177.6 441.7 177.5 442.1 177.4 442.6 177.1 443.1 176.7 444.1 175.1 445.1 173.6 445.6 173.2 446.1 172.9 446.5 172.8 446.9 172.8 447.2 172.9 447.5 173.0 447.7 173.3 447.9 173.7 448.1 174.2 448.1 174.9 447.7 176.7 447.3 178.5 447.3 179.2 447.4 179.7 447.6 180.0 447.9 180.3 448.1 180.5 448.4 180.6 448.8 180.6 449.2 180.5 449.7 180.2 450.2 179.8 451.3 178.3 452.4 176.9 452.9 176.5 453.4 176.2 453.8 176.1 454.2 176.2 454.5 176.3 454.8 176.5 455.0 176.7 455.2 177.1 455.3 177.7 455.4 178.4 454.8 180.1 454.3 181.8 454.3 182.5 454.4 183.1 454.5 183.4 454.7 183.7 455.0 183.9 455.3 184.0 455.6 184.1 456.1 184.0 456.5 183.8 457.1 183.4 458.3 182.0 459.5 180.6 460.1 180.2 460.5 180.0 461.0 180.0 461.3 180.0 461.7 180.1 461.9 180.3 462.1 180.6 462.3 181.0 462.4 181.6 462.3 182.3 461.7 184.0 461.0 185.7 461.0 186.4 461.0 186.9 461.2 187.3 461.4 187.6 461.6 187.8 461.9 187.9 462.3 188.0 462.7 187.9 463.2 187.7 463.8 187.4 465.0 186.1 466.3 184.8 466.9 184.4 467.4 184.3 467.8 184.2 468.2 184.3 468.5 184.4 468.8 184.7 469.0 185.0 469.1 185.4 469.1 185.9 469.1 186.6 468.3 188.3 467.5 189.9 467.4 190.6 467.5 191.1 467.6 191.6 467.7 191.9 468.0 192.1 468.3 192.2 468.6 192.3 469.0 192.3 469.5 192.1 470.2 191.8 471.5 190.6 472.8 189.3 473.5 189.1 474.0 188.9 474.4 188.9 474.8 189.0 475.1 189.2 475.3 189.4 475.5 189.7 475.6 190.2 475.6 190.7 475.5 191.4 474.6 193.0 473.8 194.6 473.6 195.3 473.6 195.8 473.7 196.2 473.8 196.5 474.1 196.8 474.3 196.9 474.7 197.0 475.1 197.0 475.6 196.9 476.3 196.7 477.7 195.5 479.1 194.4 479.7 194.1 480.3 194.0 480.7 194.0 481.0 194.1 481.3 194.3 481.6 194.6 481.7 194.9 481.8 195.3 481.8 195.9 481.6 196.6 480.6 198.1 479.7 199.7 479.5 200.3 479.4 200.8 479.5 201.3 479.6 201.6 479.8 201.9 480.1 202.0 480.4 202.1 480.8 202.2 481.4 202.1 482.0 201.9 483.5 200.8 485.0 199.7 485.7 199.5 486.2 199.5 486.6 199.5 487.0 199.7 487.2 199.9 487.4 200.1 487.6 200.5 487.6 200.9 487.6 201.4 487.4 202.1 486.3 203.6 485.2 205.1 485.0 205.7 484.9 206.3 485.0 206.7 485.1 207.0 485.2 207.3 485.5 207.5 485.8 207.6 486.3 207.7 486.8 207.6 487.4 207.4 489.0 206.5 490.5 205.5 491.2 205.3 491.8 205.3 492.2 205.4 492.5 205.5 492.8 205.8 493.0 206.1 493.1 206.4 493.1 206.8 493.0 207.4 492.7 208.0 491.6 209.4 490.4 210.8 490.2 211.5 490.1 212.0 490.1 212.4 490.2 212.8 490.3 213.0 490.6 213.3 490.9 213.4 491.3 213.5 491.8 213.5 492.5 213.3 494.1 212.5 495.7 211.6 496.4 211.5 496.9 211.5 497.4 211.6 497.7 211.8 497.9 212.0 498.1 212.3 498.2 212.7 498.2 213.1 498.0 213.6 497.8 214.3 496.5 215.6 495.3 216.9 495.0 217.6 494.8 218.1 494.8 218.5 494.9 218.8 495.0 219.1 495.2 219.4 495.5 219.5 496.0 219.6 496.5 219.7 497.2 219.6 498.8 218.8 500.5 218.0 501.2 218.0 501.7 218.0 502.1 218.1 502.4 218.3 502.7 218.6 502.8 218.9 502.9 219.3 502.8 219.7 502.7 220.2 502.3 220.8 501.0 222.1 499.7 223.3 499.4 223.9 499.2 224.4 499.1 224.8 499.2 225.2 499.3 225.5 499.5 225.7 499.8 225.9 500.2 226.1 500.7 226.1 501.4 226.1 503.1 225.4 504.8 224.8 505.5 224.7 506.1 224.8 506.5 225.0 506.8 225.2 507.0 225.4 507.1 225.8 507.1 226.1 507.1 226.6 506.9 227.0 506.5 227.6 505.1 228.8 503.7 230.0 503.3 230.6 503.1 231.0 503.0 231.5 503.1 231.8 503.2 232.1 503.4 232.4 503.7 232.6 504.0 232.7 504.6 232.8 505.3 232.8 507.0 232.3 508.7 231.7 509.4 231.8 510.0 231.9 510.4 232.1 510.6 232.3 510.8 232.6 510.9 232.9 511.0 233.3 510.9 233.7 510.6 234.2 510.2 234.7 508.8 235.8 507.3 236.9 506.9 237.4 506.6 237.9 506.5 238.3 506.5 238.7 506.6 239.0 506.8 239.2 507.1 239.5 507.4 239.7 507.9 239.8 508.6 239.8 510.4 239.4 512.2 239.0 512.9 239.0 513.4 239.2 513.8 239.4 514.1 239.6 514.2 239.9 514.3 240.2 514.3 240.6 514.2 241.0 513.9 241.5 513.5 242.0 512.0 243.0 510.4 244.0 510.0 244.5 509.7 245.0 509.6 245.4 509.5 245.7 509.6 246.0 509.8 246.3 510.0 246.6 510.4 246.8 510.9 246.9 511.6 247.0 513.4 246.7 515.2 246.4 515.9 246.5 516.4 246.7 516.7 246.9 517.0 247.2 517.2 247.5 517.2 247.8 517.2 248.2 517.0 248.6 516.8 249.0 516.3 249.5 514.7 250.4 513.1 251.3 512.6 251.8 512.3 252.2 512.1 252.6 512.1 253.0 512.1 253.3 512.3 253.6 512.5 253.8 512.9 254.1 513.4 254.3 514.0 254.4 515.9 254.2 517.7 254.0 518.4 254.1 518.9 254.4 519.2 254.6 519.4 254.9 519.6 255.2 519.6 255.5 519.6 255.9 519.4 256.3 519.1 256.7 518.6 257.2 516.9 258.0 515.3 258.8 514.8 259.2 514.4 259.6 514.3 260.0 514.2 260.4 514.2 260.7 514.3 261.0 514.6 261.3 514.9 261.5 515.4 261.7 516.0 261.9 517.9 261.8 519.7 261.7 520.4 261.9 520.8 262.2 521.2 262.4 521.4 262.7 521.5 263.1 521.5 263.4 521.5 263.8 521.3 264.1 520.9 264.6 520.4 265.0 518.7 265.7 517.0 266.3 516.4 266.8 516.1 267.2 515.9 267.5 515.8 267.9 515.8 268.2 515.9 268.5 516.1 268.8 516.4 269.1 516.9 269.3 517.5 269.5 519.4 269.6 521.2 269.6 521.9 269.8 522.3 270.1 522.6 270.4 522.8 270.7 522.9 271.0 522.9 271.4 522.8 271.7 522.6 272.1 522.2 272.5 521.7 272.9 519.9 273.5 518.2 274.0 517.6 274.4 517.3 274.8 517.0 275.1 516.9 275.5 516.9 275.8 517.0 276.1 517.2 276.4 517.5 276.7 517.9 277.0 518.6 277.2 520.4 277.4 522.2 277.5 522.8 277.8 523.3 278.1 523.6 278.4 523.8 278.8 523.8 279.1 523.8 279.4 523.7 279.8 523.4 280.1 523.1 280.5 522.5 280.9 520.7 281.3 518.9 281.8 518.3 282.1 517.9 282.5 517.7 282.8 517.5 283.1 517.5 283.4 517.6 283.8 517.7 284.1 518.0 284.4 518.4 284.7 519.1 285.0 520.9 285.3 522.7 285.5 523.3 285.8 523.7 286.2 524.0 286.5 524.2 286.8 524.2 287.2 524.2 287.5 524.0 287.9 523.8 288.2 523.4 288.5 522.7 288.9Z" fill="none" stroke="#9c9c9c" stroke-width="2"/>
<circle cx="397.9" cy="289.2" r="116.1" fill="#fff" stroke="#5e5e5e" stroke-width="0.8"/>
<rect x="304.2" y="211.2" width="103.4" height="56.2" rx="28.1" fill="#c9caca" stroke="#6c6c6c" stroke-width="1"/>
<rect x="305.59999999999997" y="212.6" width="100.60000000000001" height="53.400000000000006" rx="26.700000000000003" fill="none" stroke="#e2e2e2" stroke-width="0.9"/>
<circle cx="379.8" cy="239.7" r="24.6" fill="#c3d98b" stroke="#636363" stroke-width="0.8"/>
<circle cx="330.5" cy="239.7" r="24.6" fill="#fff" stroke="#636363" stroke-width="0.8"/>
<path d="M305.9 239.7 A24.6 24.6 0 0 1 355.1 239.7 Z" fill="#c3d98b" stroke="#636363" stroke-width="0.7"/>
<circle cx="330.5" cy="239.7" r="9.7" fill="#909090" stroke="#555" stroke-width="0.8"/>
<circle cx="379.8" cy="239.7" r="9.7" fill="#909090" stroke="#555" stroke-width="0.8"/>
<rect x="418.5" y="192.5" width="55.2" height="104.5" rx="27.6" fill="#c9caca" stroke="#6c6c6c" stroke-width="1"/>
<rect x="419.9" y="193.9" width="52.400000000000006" height="101.7" rx="26.200000000000003" fill="none" stroke="#e2e2e2" stroke-width="0.9"/>
<circle cx="446.2" cy="220" r="24.6" fill="#e9b559" stroke="#636363" stroke-width="0.8"/>
<circle cx="446.2" cy="269" r="24.6" fill="#fff" stroke="#636363" stroke-width="0.8"/>
<path d="M446.2 244.4 A24.6 24.6 0 0 0 446.2 293.6 Z" fill="#e9b559" stroke="#636363" stroke-width="0.7"/>
<circle cx="446.2" cy="269" r="9.7" fill="#909090" stroke="#555" stroke-width="0.8"/>
<circle cx="446.2" cy="220" r="9.7" fill="#909090" stroke="#555" stroke-width="0.8"/>
<rect x="321" y="278" width="56" height="104.6" rx="28.0" fill="#c9caca" stroke="#6c6c6c" stroke-width="1"/>
<rect x="322.4" y="279.4" width="53.2" height="101.8" rx="26.6" fill="none" stroke="#e2e2e2" stroke-width="0.9"/>
<circle cx="349" cy="305.4" r="24.6" fill="#a9d4e4" stroke="#636363" stroke-width="0.8"/>
<circle cx="349" cy="354.5" r="24.6" fill="#fff" stroke="#636363" stroke-width="0.8"/>
<path d="M349 329.9 A24.6 24.6 0 0 0 349 379.1 Z" fill="#a9d4e4" stroke="#636363" stroke-width="0.7"/>
<circle cx="349" cy="354.5" r="9.7" fill="#909090" stroke="#555" stroke-width="0.8"/>
<circle cx="349" cy="305.4" r="9.7" fill="#909090" stroke="#555" stroke-width="0.8"/>
<rect x="389" y="307.3" width="104" height="56.5" rx="28.25" fill="#c9caca" stroke="#6c6c6c" stroke-width="1"/>
<rect x="390.4" y="308.7" width="101.2" height="53.7" rx="26.85" fill="none" stroke="#e2e2e2" stroke-width="0.9"/>
<circle cx="465.6" cy="335.7" r="24.6" fill="#b89e84" stroke="#636363" stroke-width="0.8"/>
<circle cx="416" cy="335.7" r="24.6" fill="#fff" stroke="#636363" stroke-width="0.8"/>
<path d="M391.4 335.7 A24.6 24.6 0 0 1 440.6 335.7 Z" fill="#b89e84" stroke="#636363" stroke-width="0.7"/>
<circle cx="416" cy="335.7" r="9.7" fill="#909090" stroke="#555" stroke-width="0.8"/>
<circle cx="465.6" cy="335.7" r="9.7" fill="#909090" stroke="#555" stroke-width="0.8"/>

<!-- leaders -->
<g fill="none" stroke="#1a1a1a" stroke-width="1.15">
<polyline points="227.7,186.5 260.9,186.5 285.9,207.1"/>
<polyline points="197,288.6 275,288.6"/>
<polyline points="235.6,392.5 270.3,392.5 321,357.5"/>
<polyline points="567.8,187.2 534.7,187.2 473.7,238.8"/>
<polyline points="599.7,288.4 565,288.4 448.2,269.2"/>
<polyline points="574,393 432.5,393 417,354.2"/>
<polyline points="476.2,393 463.6,354.2"/>
</g>
<g>
<text x="193.5" y="183.6" font-size="9.2" font-weight="bold" fill="#000" text-anchor="middle" textLength="59.8" lengthAdjust="spacingAndGlyphs" stroke="#000" stroke-width="0.22">Außenmantel</text>
<text x="193.6" y="195.4" font-size="9.4" font-weight="normal" fill="#1a1a1a" text-anchor="middle" textLength="52.8" lengthAdjust="spacingAndGlyphs" stroke="#1a1a1a" stroke-width="0.08">Outer jacket</text>
<text x="150.2" y="287" font-size="9.2" font-weight="bold" fill="#000" text-anchor="middle" textLength="85.3" lengthAdjust="spacingAndGlyphs" stroke="#000" stroke-width="0.22">Geflechtschirmung</text>
<text x="150.2" y="298.4" font-size="9.4" font-weight="normal" fill="#1a1a1a" text-anchor="middle" textLength="51.3" lengthAdjust="spacingAndGlyphs" stroke="#1a1a1a" stroke-width="0.08">Braid shield</text>
<text x="192.6" y="390.3" font-size="9.2" font-weight="bold" fill="#000" text-anchor="middle" textLength="78.0" lengthAdjust="spacingAndGlyphs" stroke="#000" stroke-width="0.22">Paarabschirmung</text>
<text x="192.4" y="402.4" font-size="9.4" font-weight="normal" fill="#1a1a1a" text-anchor="middle" textLength="49.2" lengthAdjust="spacingAndGlyphs" stroke="#1a1a1a" stroke-width="0.08">Pair screen</text>
<text x="604.4" y="183.5" font-size="9.2" font-weight="bold" fill="#000" text-anchor="middle" textLength="64.5" lengthAdjust="spacingAndGlyphs" stroke="#000" stroke-width="0.22">Aderisolierung</text>
<text x="604.4" y="195.8" font-size="9.4" font-weight="normal" fill="#1a1a1a" text-anchor="middle" textLength="37.5" lengthAdjust="spacingAndGlyphs" stroke="#1a1a1a" stroke-width="0.08">Isolation</text>
<text x="623.8" y="286.6" font-size="9.2" font-weight="bold" fill="#000" text-anchor="middle" textLength="39.3" lengthAdjust="spacingAndGlyphs" stroke="#000" stroke-width="0.22">Cu-Draht</text>
<text x="623.6" y="298.5" font-size="9.4" font-weight="normal" fill="#1a1a1a" text-anchor="middle" textLength="33.6" lengthAdjust="spacingAndGlyphs" stroke="#1a1a1a" stroke-width="0.08">Cu-Wire</text>
<text x="603.9" y="390" font-size="9.2" font-weight="bold" fill="#000" text-anchor="middle" textLength="51.4" lengthAdjust="spacingAndGlyphs" stroke="#000" stroke-width="0.22">Adernpaare</text>
<text x="604.0" y="401.4" font-size="9.4" font-weight="normal" fill="#1a1a1a" text-anchor="middle" textLength="52.8" lengthAdjust="spacingAndGlyphs" stroke="#1a1a1a" stroke-width="0.08">Twisted pair</text>
</g>
</svg>
</body></html>
